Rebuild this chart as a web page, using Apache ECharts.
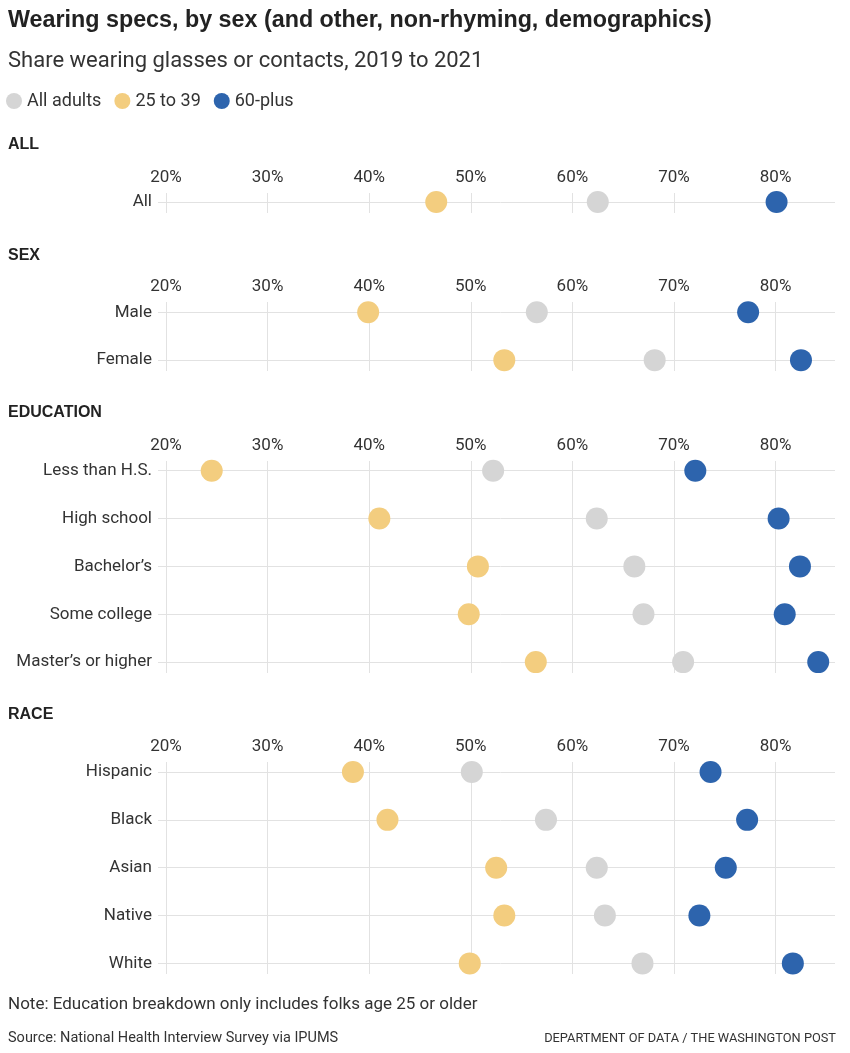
<!DOCTYPE html>
<html><head><meta charset="utf-8">
<script src="https://cdn.jsdelivr.net/npm/echarts@6/dist/echarts.min.js"></script>
<style>html,body{margin:0;padding:0;background:#fff}#c{width:850px;height:1053px}</style>
</head><body><div id="c"></div>
<script>
// ---- data ----
const seriesNames = ['All adults', '25 to 39', '60-plus'];
const sectionTitles = ['ALL', 'SEX', 'EDUCATION', 'RACE'];

const catsAll = ['All'];
const adultsAll = [62.5];
const youngAll = [46.6];
const oldAll = [80.1];

const catsSex = ['Male', 'Female'];
const adultsSex = [56.5, 68.1];
const youngSex = [39.9, 53.3];
const oldSex = [77.3, 82.5];

const catsEdu = ['Less than H.S.', 'High school', 'Bachelor\u2019s', 'Some college', 'Master\u2019s or higher'];
const adultsEdu = [52.2, 62.4, 66.1, 67.0, 70.9];
const youngEdu = [24.5, 41.0, 50.7, 49.8, 56.4];
const oldEdu = [72.1, 80.3, 82.4, 80.9, 84.2];

const catsRace = ['Hispanic', 'Black', 'Asian', 'Native', 'White'];
const adultsRace = [50.1, 57.4, 62.4, 63.2, 66.9];
const youngRace = [38.4, 41.8, 52.5, 53.3, 49.9];
const oldRace = [73.6, 77.2, 75.1, 72.5, 81.7];

const xMin = 20, xMax = 85.85, xInterval = 10;

// ---- layout / style ----
const FONT = 'Roboto, "Noto Sans", sans-serif';
const TITLE_FONT = '"Liberation Sans", Arial, sans-serif';
const GRID_COLOR = '#e2e2e2';
const COLORS = ['#d5d5d5', '#f3cd7f', '#2d64ad'];
const panelData = [
  [catsAll, adultsAll, youngAll, oldAll],
  [catsSex, adultsSex, youngSex, oldSex],
  [catsEdu, adultsEdu, youngEdu, oldEdu],
  [catsRace, adultsRace, youngRace, oldRace]
];
const layout = [
  { outerTop: 193, outerBottom: 213, rowTop: 202, titleY: 145 },
  { outerTop: 302, outerBottom: 371, rowTop: 312.3, titleY: 256 },
  { outerTop: 461, outerBottom: 673, rowTop: 470.7, titleY: 413 },
  { outerTop: 762, outerBottom: 974, rowTop: 772, titleY: 715 }
];
const ROW_STEP = 47.85;
const LEFT = 166, RIGHT = 15;

const grid = [], xAxis = [], yAxis = [], series = [], graphic = [];
panelData.forEach((pd, p) => {
  const L = layout[p];
  const cats = pd[0];
  const n = cats.length;
  // grid A: vertical gridlines + top labels
  grid.push({ left: LEFT, right: RIGHT, top: L.outerTop, height: L.outerBottom - L.outerTop });
  const gA = grid.length - 1;
  xAxis.push({
    type: 'value', gridIndex: gA, position: 'top', min: xMin, max: xMax, interval: xInterval,
    axisLine: { show: false }, axisTick: { show: false },
    axisLabel: { show: true, showMaxLabel: false, margin: 7, fontFamily: FONT, fontSize: 17, color: '#333',
      formatter: v => (v % 10 === 0 ? v + '%' : '') },
    splitLine: { show: true, showMaxLine: false, lineStyle: { color: GRID_COLOR, width: 1 } }
  });
  yAxis.push({ type: 'value', gridIndex: gA, show: false, splitLine: { show: false } });
  // grid B: rows
  const h = n > 1 ? ROW_STEP * (n - 1) : 20;
  const top = n > 1 ? L.rowTop : L.rowTop - 10;
  grid.push({ left: LEFT, right: RIGHT, top: top, height: h });
  const gB = grid.length - 1;
  xAxis.push({
    type: 'value', gridIndex: gB, min: xMin, max: xMax, interval: xInterval, show: false,
    splitLine: { show: false }
  });
  yAxis.push({
    type: 'category', gridIndex: gB, data: cats, inverse: true, boundaryGap: false,
    axisLine: { show: false },
    axisTick: { show: true, length: 8, lineStyle: { color: GRID_COLOR } },
    axisLabel: { margin: 14, fontFamily: FONT, fontSize: 17, color: '#333' },
    splitLine: { show: true, lineStyle: { color: GRID_COLOR, width: 1 } }
  });
  [pd[1], pd[2], pd[3]].forEach((vals, s) => {
    series.push({
      name: seriesNames[s], type: 'scatter', xAxisIndex: gB, yAxisIndex: gB,
      symbolSize: 22, itemStyle: { color: COLORS[s], opacity: 1 },
      emphasis: { disabled: true }, silent: true, z: 3 + s,
      data: cats.map((c, i) => [vals[i], c])
    });
  });
  graphic.push({
    type: 'text', left: 8, top: L.titleY - 8,
    style: { text: sectionTitles[p], font: 'bold 16px ' + TITLE_FONT, fill: '#222' }
  });
});

graphic.push(
  { type: 'text', left: 8, top: 996, style: { text: 'Note: Education breakdown only includes folks age 25 or older', font: '17px ' + FONT, fill: '#333' } },
  { type: 'text', left: 8, top: 1031, style: { text: 'Source: National Health Interview Survey via IPUMS', font: '14.5px ' + FONT, fill: '#333' } },
  { type: 'text', right: 14, top: 1032, style: { text: 'DEPARTMENT OF DATA / THE WASHINGTON POST', font: '12.8px ' + FONT, fill: '#333' } }
);

const option = {
  animation: false,
  backgroundColor: '#fff',
  title: [
    { text: 'Wearing specs, by sex (and other, non-rhyming, demographics)', left: 8, top: 9, padding: 0,
      textStyle: { fontFamily: TITLE_FONT, fontWeight: 'bold', fontSize: 23.3, color: '#222' } },
    { text: 'Share wearing glasses or contacts, 2019 to 2021', left: 8, top: 50, padding: 0,
      textStyle: { fontFamily: FONT, fontWeight: 'normal', fontSize: 22, color: '#333' } }
  ],
  legend: {
    data: seriesNames, left: 6, top: 92, padding: 0, icon: 'circle', itemWidth: 16, itemHeight: 16, itemGap: 13,
    textStyle: { fontFamily: FONT, fontSize: 18, color: '#333' }, selectedMode: false
  },
  grid, xAxis, yAxis, series, graphic
};
const chart = echarts.init(document.getElementById('c'), null, { renderer: 'canvas' });
chart.setOption(option);
</script></body></html>
